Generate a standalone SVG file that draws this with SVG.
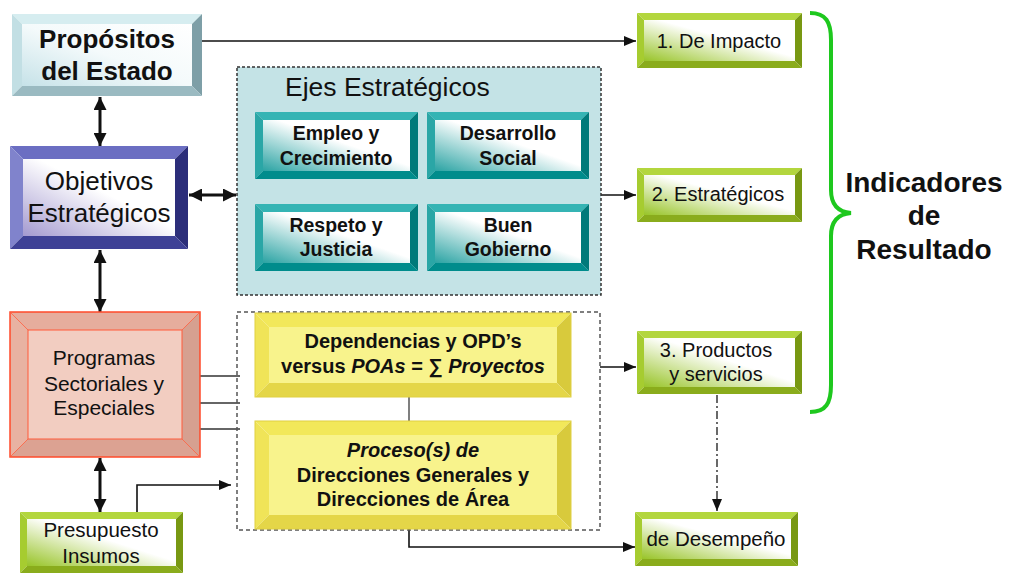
<svg xmlns="http://www.w3.org/2000/svg" width="1016" height="574" viewBox="0 0 1016 574">
<style>
text{font-family:"Liberation Sans",Arial,sans-serif;fill:#111}
.b{font-weight:bold}
.c{text-anchor:middle}
.ln{fill:none;stroke:#111;stroke-width:1.6}
.dbl{fill:none;stroke:#111;stroke-width:3}
</style>
<defs>
<marker id="ah" viewBox="0 0 12 10" refX="12" refY="5" markerWidth="12" markerHeight="10" markerUnits="userSpaceOnUse" orient="auto-start-reverse"><path d="M0,0 L12,5 L0,10 Z" fill="#111"/></marker>
<marker id="ahb" viewBox="0 0 12 12" refX="12" refY="6" markerWidth="13" markerHeight="13" markerUnits="userSpaceOnUse" orient="auto-start-reverse"><path d="M0,0 L12,6 L0,12 Z" fill="#111"/></marker>
<linearGradient id="gCyan" x1="1" y1="0" x2="0" y2="1"><stop offset="0" stop-color="#ffffff"/><stop offset="0.5" stop-color="#f4fafb"/><stop offset="1" stop-color="#c6e2e8"/></linearGradient>
<linearGradient id="gBlue" x1="1" y1="0" x2="0" y2="1"><stop offset="0" stop-color="#ffffff"/><stop offset="0.45" stop-color="#ffffff"/><stop offset="1" stop-color="#a49ad0"/></linearGradient>
<linearGradient id="gTeal" x1="1" y1="0" x2="0" y2="1"><stop offset="0" stop-color="#ffffff"/><stop offset="0.45" stop-color="#ffffff"/><stop offset="1" stop-color="#2aa3a3"/></linearGradient>
<linearGradient id="gGreen" x1="1" y1="0" x2="0" y2="1"><stop offset="0" stop-color="#ffffff"/><stop offset="0.45" stop-color="#ffffff"/><stop offset="1" stop-color="#98c428"/></linearGradient>
</defs>

<g id="connectors">
<line class="ln" x1="202" y1="41" x2="636" y2="41" marker-end="url(#ah)"/>
<line class="dbl" x1="100" y1="97" x2="100" y2="146" marker-start="url(#ahb)" marker-end="url(#ahb)"/>
<line class="dbl" x1="189" y1="195" x2="236" y2="195" marker-start="url(#ahb)" marker-end="url(#ahb)"/>
<line class="dbl" x1="100" y1="250" x2="100" y2="312" marker-start="url(#ahb)" marker-end="url(#ahb)"/>
<line class="dbl" x1="100" y1="458" x2="100" y2="512" marker-start="url(#ahb)" marker-end="url(#ahb)"/>
<line class="ln" x1="601" y1="195" x2="636" y2="195" marker-end="url(#ah)"/>
<line x1="200" y1="376" x2="240" y2="376" stroke="#333" stroke-width="1.5"/>
<line x1="200" y1="403" x2="240" y2="403" stroke="#333" stroke-width="1.5"/>
<line x1="200" y1="429" x2="240" y2="429" stroke="#333" stroke-width="1.5"/>
<path class="ln" d="M137,512 V485 H231" marker-end="url(#ah)"/>
<line x1="409" y1="397" x2="409" y2="421" stroke="#555" stroke-width="1.5"/>
<path class="ln" d="M409,529 V547 H635" marker-end="url(#ah)"/>
<line class="ln" x1="600" y1="367" x2="636" y2="367" marker-end="url(#ah)"/>
<line x1="717" y1="395" x2="717" y2="511" stroke="#444" stroke-width="1.6" stroke-dasharray="8,3,2,3" marker-end="url(#ah)"/>
</g>

<g id="proposito">
<polygon points="12,14 202,14 192,24 22,24" fill="#d6edf0"/>
<polygon points="12,14 22,24 22,86 12,96" fill="#c2dfe4"/>
<polygon points="202,14 202,96 192,86 192,24" fill="#7e9fa7"/>
<polygon points="12,96 22,86 192,86 202,96" fill="#9abac1"/>
<rect x="22" y="24" width="170" height="62" fill="url(#gCyan)"/>
<text class="b c" x="107" y="48" font-size="26">Propósitos</text>
<text class="b c" x="107" y="80" font-size="26">del Estado</text>
</g>

<g id="objetivos">
<polygon points="10,146 188,146 175,159 23,159" fill="#6b6ec2"/>
<polygon points="10,146 23,159 23,236 10,249" fill="#8083cc"/>
<polygon points="188,146 188,249 175,236 175,159" fill="#2c2e7a"/>
<polygon points="10,249 23,236 175,236 188,249" fill="#3e4196"/>
<rect x="23" y="159" width="152" height="77" fill="url(#gBlue)"/>
<text class="c" x="99" y="190" font-size="26">Objetivos</text>
<text class="c" x="99" y="222" font-size="26">Estratégicos</text>
</g>

<g id="programas">
<polygon points="10,312 200,312 182,330 28,330" fill="#e6ad9d"/>
<polygon points="10,312 28,330 28,439 10,457" fill="#e8b2a2"/>
<polygon points="200,312 200,457 182,439 182,330" fill="#d6a090"/>
<polygon points="10,457 28,439 182,439 200,457" fill="#dca292"/>
<rect x="28" y="330" width="154" height="109" fill="#f2cdc1" stroke="#ff5a3a" stroke-width="1"/>
<rect x="10" y="312" width="190" height="145" fill="none" stroke="#ff4a2a" stroke-width="1.5"/>
<line x1="10" y1="312" x2="28" y2="330" stroke="#ff5a3a" stroke-width="0.8"/>
<line x1="200" y1="312" x2="182" y2="330" stroke="#ff5a3a" stroke-width="0.8"/>
<line x1="10" y1="457" x2="28" y2="439" stroke="#ff5a3a" stroke-width="0.8"/>
<line x1="200" y1="457" x2="182" y2="439" stroke="#ff5a3a" stroke-width="0.8"/>
<text class="c" x="104" y="365" font-size="21">Programas</text>
<text class="c" x="104" y="391" font-size="21">Sectoriales y</text>
<text class="c" x="104" y="415" font-size="21">Especiales</text>
</g>

<g id="presupuesto">
<polygon points="20,512 183,512 176,519 27,519" fill="#b3d63e"/>
<polygon points="20,512 27,519 27,566 20,573" fill="#a6cc30"/>
<polygon points="183,512 183,573 176,566 176,519" fill="#789812"/>
<polygon points="20,573 27,566 176,566 183,573" fill="#8aac1c"/>
<rect x="27" y="519" width="149" height="47" fill="url(#gGreen)"/>
<text class="c" x="101" y="537" font-size="20.5">Presupuesto</text>
<text class="c" x="101" y="563" font-size="20.5">Insumos</text>
</g>

<g id="ejes">
<rect x="237" y="67" width="364" height="228" fill="#c4e3e6" stroke="#333" stroke-width="1.5" stroke-dasharray="3,2"/>
<text x="285" y="96" font-size="26.5">Ejes Estratégicos</text>
</g>

<g id="empleo">
<polygon points="255,112 418,112 410,120 263,120" fill="#35b4b4"/>
<polygon points="255,112 263,120 263,171 255,179" fill="#2aa6a6"/>
<polygon points="418,112 418,179 410,171 410,120" fill="#007a7a"/>
<polygon points="255,179 263,171 410,171 418,179" fill="#008c8c"/>
<rect x="263" y="120" width="147" height="51" fill="url(#gTeal)"/>
<text class="b c" x="336" y="140" font-size="19.5">Empleo y</text>
<text class="b c" x="336" y="165" font-size="19.5">Crecimiento</text>
</g>

<g id="desarrollo">
<polygon points="427,112 589,112 581,120 435,120" fill="#35b4b4"/>
<polygon points="427,112 435,120 435,171 427,179" fill="#2aa6a6"/>
<polygon points="589,112 589,179 581,171 581,120" fill="#007a7a"/>
<polygon points="427,179 435,171 581,171 589,179" fill="#008c8c"/>
<rect x="435" y="120" width="146" height="51" fill="url(#gTeal)"/>
<text class="b c" x="508" y="140" font-size="19.5">Desarrollo</text>
<text class="b c" x="508" y="165" font-size="19.5">Social</text>
</g>

<g id="respeto">
<polygon points="255,204 418,204 410,212 263,212" fill="#35b4b4"/>
<polygon points="255,204 263,212 263,263 255,271" fill="#2aa6a6"/>
<polygon points="418,204 418,271 410,263 410,212" fill="#007a7a"/>
<polygon points="255,271 263,263 410,263 418,271" fill="#008c8c"/>
<rect x="263" y="212" width="147" height="51" fill="url(#gTeal)"/>
<text class="b c" x="336" y="232" font-size="19.5">Respeto y</text>
<text class="b c" x="336" y="256" font-size="19.5">Justicia</text>
</g>

<g id="buen">
<polygon points="427,204 589,204 581,212 435,212" fill="#35b4b4"/>
<polygon points="427,204 435,212 435,263 427,271" fill="#2aa6a6"/>
<polygon points="589,204 589,271 581,263 581,212" fill="#007a7a"/>
<polygon points="427,271 435,263 581,263 589,271" fill="#008c8c"/>
<rect x="435" y="212" width="146" height="51" fill="url(#gTeal)"/>
<text class="b c" x="508" y="232" font-size="19.5">Buen</text>
<text class="b c" x="508" y="256" font-size="19.5">Gobierno</text>
</g>

<g id="operativo">
<rect x="237" y="312" width="363" height="218" fill="none" stroke="#555" stroke-width="1.5" stroke-dasharray="4,3"/>
</g>

<g id="dependencias">
<polygon points="255,313 571,313 557,327 269,327" fill="#f2e85a"/>
<polygon points="255,313 269,327 269,383 255,397" fill="#f0e458"/>
<polygon points="571,313 571,397 557,383 557,327" fill="#d8ca3c"/>
<polygon points="255,397 269,383 557,383 571,397" fill="#e4d648"/>
<rect x="269" y="327" width="288" height="56" fill="#f8f38c"/>
<rect x="255" y="313" width="316" height="84" fill="none" stroke="#e0d040" stroke-width="1"/>
<text class="b c" x="413" y="348" font-size="20">Dependencias y OPD’s</text>
<text class="b c" x="413" y="373" font-size="20">versus <tspan font-style="italic">POAs</tspan> = ∑ <tspan font-style="italic">Proyectos</tspan></text>
</g>

<g id="proceso">
<polygon points="255,421 571,421 557,435 269,435" fill="#f2e85a"/>
<polygon points="255,421 269,435 269,515 255,529" fill="#f0e458"/>
<polygon points="571,421 571,529 557,515 557,435" fill="#d8ca3c"/>
<polygon points="255,529 269,515 557,515 571,529" fill="#e4d648"/>
<rect x="269" y="435" width="288" height="80" fill="#f8f38c"/>
<rect x="255" y="421" width="316" height="108" fill="none" stroke="#e0d040" stroke-width="1"/>
<text class="b c" x="413" y="457" font-size="20" font-style="italic">Proceso(s) de</text>
<text class="b c" x="413" y="482" font-size="20">Direcciones Generales y</text>
<text class="b c" x="413" y="506" font-size="20">Direcciones de Área</text>
</g>

<g id="impacto">
<polygon points="637,13 802,13 795,20 644,20" fill="#b3d63e"/>
<polygon points="637,13 644,20 644,61 637,68" fill="#a6cc30"/>
<polygon points="802,13 802,68 795,61 795,20" fill="#789812"/>
<polygon points="637,68 644,61 795,61 802,68" fill="#8aac1c"/>
<rect x="644" y="20" width="151" height="41" fill="url(#gGreen)"/>
<text class="c" x="719" y="48" font-size="20">1. De Impacto</text>
</g>

<g id="estrategicos">
<polygon points="637,168 802,168 795,175 644,175" fill="#b3d63e"/>
<polygon points="637,168 644,175 644,215 637,222" fill="#a6cc30"/>
<polygon points="802,168 802,222 795,215 795,175" fill="#789812"/>
<polygon points="637,222 644,215 795,215 802,222" fill="#8aac1c"/>
<rect x="644" y="175" width="151" height="40" fill="url(#gGreen)"/>
<text class="c" x="718" y="201" font-size="20">2. Estratégicos</text>
</g>

<g id="productos">
<polygon points="637,331 802,331 795,338 644,338" fill="#b3d63e"/>
<polygon points="637,331 644,338 644,387 637,394" fill="#a6cc30"/>
<polygon points="802,331 802,394 795,387 795,338" fill="#789812"/>
<polygon points="637,394 644,387 795,387 802,394" fill="#8aac1c"/>
<rect x="644" y="338" width="151" height="49" fill="url(#gGreen)"/>
<text class="c" x="716" y="357" font-size="20">3. Productos</text>
<text class="c" x="716" y="381" font-size="20">y servicios</text>
</g>

<g id="desempeno">
<polygon points="635,512 798,512 791,519 642,519" fill="#b3d63e"/>
<polygon points="635,512 642,519 642,559 635,566" fill="#a6cc30"/>
<polygon points="798,512 798,566 791,559 791,519" fill="#789812"/>
<polygon points="635,566 642,559 791,559 798,566" fill="#8aac1c"/>
<rect x="642" y="519" width="149" height="40" fill="url(#gGreen)"/>
<text class="c" x="716" y="546" font-size="20.5">de Desempeño</text>
</g>

<g id="indicadores">
<path d="M810,13 C826,13 831,22 831,40 L831,190 C831,205 838,212 851,213 C838,214 831,221 831,236 L831,385 C831,403 826,412 810,412" fill="none" stroke="#1ec81e" stroke-width="4"/>
<text class="b c" x="924" y="192" font-size="28">Indicadores</text>
<text class="b c" x="924" y="225" font-size="28">de</text>
<text class="b c" x="924" y="259" font-size="28">Resultado</text>
</g>
</svg>
